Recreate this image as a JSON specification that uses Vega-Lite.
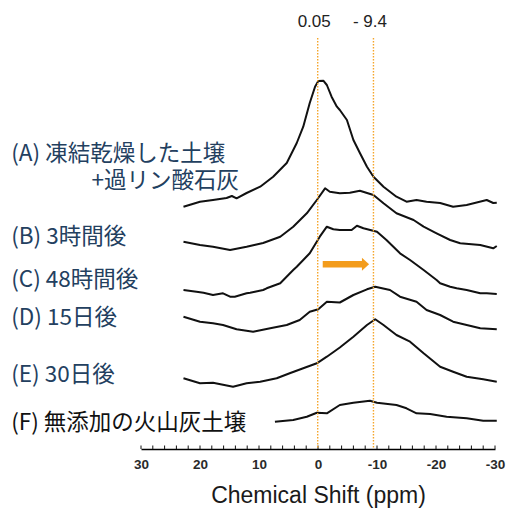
{
  "$schema": "https://vega.github.io/schema/vega-lite/v6.json",
  "autosize": {"type": "none"},
  "padding": {"left": 141, "top": 9, "right": 14, "bottom": 59},
  "width": 354,
  "height": 440,
  "config": {
    "view": {"stroke": null},
    "font": "Liberation Sans",
    "axisX": {
      "titleFont": "Liberation Sans", "titleFontSize": 23, "titleFontWeight": "normal", "titleColor": "#1a1a1a", "titlePadding": 13,
      "labelFont": "Liberation Sans", "labelFontSize": 13.5, "labelFontWeight": "bold", "labelColor": "#2a2a2a",
      "labelPadding": 8.5, "labelOverlap": false, "labelFlush": false,
      "ticks": false,
      "domainColor": "#000000", "domainWidth": 1.6, "grid": false
    }
  },
  "datasets": {
    "spectra": [
      {"series": "A", "ppm": 22.8, "signal": 242.3}, {"series": "A", "ppm": 20.0, "signal": 247.3}, {"series": "A", "ppm": 17.8, "signal": 249}, {"series": "A", "ppm": 15.5, "signal": 251}, {"series": "A", "ppm": 14.6, "signal": 253}, {"series": "A", "ppm": 13.8, "signal": 250.7}, {"series": "A", "ppm": 12.1, "signal": 256}, {"series": "A", "ppm": 9.8, "signal": 262.3}, {"series": "A", "ppm": 7.6, "signal": 272.3}, {"series": "A", "ppm": 5.3, "signal": 286}, {"series": "A", "ppm": 3.6, "signal": 306}, {"series": "A", "ppm": 2.5, "signal": 322.3}, {"series": "A", "ppm": 1.4, "signal": 346}, {"series": "A", "ppm": 0.5, "signal": 362.3}, {"series": "A", "ppm": -0.05, "signal": 368}, {"series": "A", "ppm": -0.9, "signal": 368.3}, {"series": "A", "ppm": -1.5, "signal": 364}, {"series": "A", "ppm": -2.3, "signal": 352.3}, {"series": "A", "ppm": -3.2, "signal": 342.3}, {"series": "A", "ppm": -3.7, "signal": 339}, {"series": "A", "ppm": -4.9, "signal": 329}, {"series": "A", "ppm": -6.0, "signal": 309}, {"series": "A", "ppm": -7.1, "signal": 296}, {"series": "A", "ppm": -8.3, "signal": 282.3}, {"series": "A", "ppm": -9.4, "signal": 272.3}, {"series": "A", "ppm": -11.1, "signal": 262.3}, {"series": "A", "ppm": -13.3, "signal": 252.3}, {"series": "A", "ppm": -15.0, "signal": 247.3}, {"series": "A", "ppm": -16.7, "signal": 249}, {"series": "A", "ppm": -18.4, "signal": 247.3}, {"series": "A", "ppm": -20.7, "signal": 246}, {"series": "A", "ppm": -22.9, "signal": 242.3}, {"series": "A", "ppm": -25.2, "signal": 244}, {"series": "A", "ppm": -28.6, "signal": 249}, {"series": "A", "ppm": -29.7, "signal": 246}, {"series": "A", "ppm": -30.3, "signal": 246.3},
      {"series": "B", "ppm": 22.8, "signal": 207.3}, {"series": "B", "ppm": 20.0, "signal": 204}, {"series": "B", "ppm": 17.8, "signal": 202.3}, {"series": "B", "ppm": 14.9, "signal": 199}, {"series": "B", "ppm": 12.1, "signal": 202.3}, {"series": "B", "ppm": 9.3, "signal": 206}, {"series": "B", "ppm": 6.4, "signal": 212.3}, {"series": "B", "ppm": 4.2, "signal": 222.3}, {"series": "B", "ppm": 1.9, "signal": 235.7}, {"series": "B", "ppm": 0.2, "signal": 249}, {"series": "B", "ppm": -1.2, "signal": 260.7}, {"series": "B", "ppm": -2.0, "signal": 257.3}, {"series": "B", "ppm": -3.7, "signal": 255.7}, {"series": "B", "ppm": -5.4, "signal": 256.3}, {"series": "B", "ppm": -7.1, "signal": 258.3}, {"series": "B", "ppm": -9.4, "signal": 254}, {"series": "B", "ppm": -11.1, "signal": 245.7}, {"series": "B", "ppm": -13.3, "signal": 235.7}, {"series": "B", "ppm": -16.2, "signal": 229}, {"series": "B", "ppm": -17.9, "signal": 222.3}, {"series": "B", "ppm": -20.1, "signal": 215.7}, {"series": "B", "ppm": -22.4, "signal": 209}, {"series": "B", "ppm": -24.1, "signal": 205.7}, {"series": "B", "ppm": -27.5, "signal": 204}, {"series": "B", "ppm": -29.7, "signal": 200.7}, {"series": "B", "ppm": -30.3, "signal": 203},
      {"series": "C", "ppm": 22.8, "signal": 159}, {"series": "C", "ppm": 20.6, "signal": 157.3}, {"series": "C", "ppm": 19.4, "signal": 156.3}, {"series": "C", "ppm": 17.8, "signal": 154}, {"series": "C", "ppm": 16.1, "signal": 155.7}, {"series": "C", "ppm": 14.9, "signal": 152.3}, {"series": "C", "ppm": 14.1, "signal": 152.3}, {"series": "C", "ppm": 12.1, "signal": 155.7}, {"series": "C", "ppm": 11.5, "signal": 156.3}, {"series": "C", "ppm": 9.3, "signal": 159}, {"series": "C", "ppm": 8.7, "signal": 160.7}, {"series": "C", "ppm": 6.4, "signal": 165.7}, {"series": "C", "ppm": 4.2, "signal": 179}, {"series": "C", "ppm": 3.6, "signal": 182.3}, {"series": "C", "ppm": 1.4, "signal": 195.7}, {"series": "C", "ppm": -0.3, "signal": 212.3}, {"series": "C", "ppm": -1.5, "signal": 222.3}, {"series": "C", "ppm": -2.6, "signal": 219.7}, {"series": "C", "ppm": -3.7, "signal": 219}, {"series": "C", "ppm": -5.7, "signal": 219}, {"series": "C", "ppm": -6.6, "signal": 223.3}, {"series": "C", "ppm": -7.7, "signal": 220.7}, {"series": "C", "ppm": -10.0, "signal": 217.3}, {"series": "C", "ppm": -11.6, "signal": 209}, {"series": "C", "ppm": -13.9, "signal": 195.7}, {"series": "C", "ppm": -15.6, "signal": 189}, {"series": "C", "ppm": -17.9, "signal": 179}, {"series": "C", "ppm": -20.1, "signal": 169}, {"series": "C", "ppm": -20.7, "signal": 165.7}, {"series": "C", "ppm": -22.4, "signal": 162.3}, {"series": "C", "ppm": -23.5, "signal": 160.7}, {"series": "C", "ppm": -25.2, "signal": 159}, {"series": "C", "ppm": -27.5, "signal": 155.7}, {"series": "C", "ppm": -28.6, "signal": 155.7}, {"series": "C", "ppm": -30.3, "signal": 155},
      {"series": "D", "ppm": 22.8, "signal": 132.3}, {"series": "D", "ppm": 20.0, "signal": 127.3}, {"series": "D", "ppm": 17.8, "signal": 125.7}, {"series": "D", "ppm": 16.1, "signal": 124}, {"series": "D", "ppm": 13.8, "signal": 119.7}, {"series": "D", "ppm": 11.0, "signal": 117.3}, {"series": "D", "ppm": 8.1, "signal": 120.7}, {"series": "D", "ppm": 5.3, "signal": 124}, {"series": "D", "ppm": 3.1, "signal": 129}, {"series": "D", "ppm": 1.4, "signal": 137.3}, {"series": "D", "ppm": -0.05, "signal": 139.7}, {"series": "D", "ppm": -1.5, "signal": 147.3}, {"series": "D", "ppm": -3.7, "signal": 146.5}, {"series": "D", "ppm": -6.0, "signal": 154}, {"series": "D", "ppm": -8.3, "signal": 159.7}, {"series": "D", "ppm": -9.7, "signal": 162.3}, {"series": "D", "ppm": -12.2, "signal": 159}, {"series": "D", "ppm": -13.9, "signal": 152.3}, {"series": "D", "ppm": -16.7, "signal": 147.3}, {"series": "D", "ppm": -18.4, "signal": 139}, {"series": "D", "ppm": -20.7, "signal": 134}, {"series": "D", "ppm": -22.9, "signal": 127.3}, {"series": "D", "ppm": -25.2, "signal": 124}, {"series": "D", "ppm": -27.5, "signal": 120.7}, {"series": "D", "ppm": -30.3, "signal": 119.7},
      {"series": "E", "ppm": 22.8, "signal": 70.7}, {"series": "E", "ppm": 20.0, "signal": 65.7}, {"series": "E", "ppm": 17.8, "signal": 66.3}, {"series": "E", "ppm": 14.4, "signal": 62.3}, {"series": "E", "ppm": 12.1, "signal": 65.7}, {"series": "E", "ppm": 9.8, "signal": 67.3}, {"series": "E", "ppm": 7.0, "signal": 70.7}, {"series": "E", "ppm": 4.8, "signal": 75.7}, {"series": "E", "ppm": 2.5, "signal": 80.7}, {"series": "E", "ppm": 0.2, "signal": 85.7}, {"series": "E", "ppm": -1.5, "signal": 92.3}, {"series": "E", "ppm": -3.7, "signal": 101.5}, {"series": "E", "ppm": -6.0, "signal": 112.3}, {"series": "E", "ppm": -8.3, "signal": 124}, {"series": "E", "ppm": -9.7, "signal": 129.7}, {"series": "E", "ppm": -11.1, "signal": 124}, {"series": "E", "ppm": -13.3, "signal": 114}, {"series": "E", "ppm": -15.6, "signal": 107.3}, {"series": "E", "ppm": -17.9, "signal": 95.7}, {"series": "E", "ppm": -20.7, "signal": 82.3}, {"series": "E", "ppm": -22.9, "signal": 77.3}, {"series": "E", "ppm": -25.2, "signal": 72.3}, {"series": "E", "ppm": -28.0, "signal": 69.7}, {"series": "E", "ppm": -30.3, "signal": 67.3},
      {"series": "F", "ppm": 7.3, "signal": 27.3}, {"series": "F", "ppm": 4.2, "signal": 29}, {"series": "F", "ppm": 1.9, "signal": 32.3}, {"series": "F", "ppm": 0.2, "signal": 36.3}, {"series": "F", "ppm": -1.5, "signal": 35.7}, {"series": "F", "ppm": -3.7, "signal": 44}, {"series": "F", "ppm": -6.0, "signal": 46.3}, {"series": "F", "ppm": -8.8, "signal": 48.3}, {"series": "F", "ppm": -10.0, "signal": 46.3}, {"series": "F", "ppm": -13.3, "signal": 44}, {"series": "F", "ppm": -15.0, "signal": 40.7}, {"series": "F", "ppm": -16.7, "signal": 35.7}, {"series": "F", "ppm": -19.0, "signal": 35}, {"series": "F", "ppm": -21.8, "signal": 32.3}, {"series": "F", "ppm": -25.2, "signal": 30.7}, {"series": "F", "ppm": -28.0, "signal": 28.3}, {"series": "F", "ppm": -30.3, "signal": 28.3}
    ],
    "ticks": [
      {"ppm": 30}, {"ppm": 28}, {"ppm": 26}, {"ppm": 24}, {"ppm": 22}, {"ppm": 20}, {"ppm": 18}, {"ppm": 16}, {"ppm": 14}, {"ppm": 12}, {"ppm": 10}, {"ppm": 8}, {"ppm": 6}, {"ppm": 4}, {"ppm": 2}, {"ppm": 0},
      {"ppm": -2}, {"ppm": -4}, {"ppm": -6}, {"ppm": -8}, {"ppm": -10}, {"ppm": -12}, {"ppm": -14}, {"ppm": -16}, {"ppm": -18}, {"ppm": -20}, {"ppm": -22}, {"ppm": -24}, {"ppm": -26}, {"ppm": -28}, {"ppm": -30}
    ],
    "refs": [
      {"ppm": 0.05, "label": "0.05", "top": 411, "bottom": 0, "labelLevel": 429},
      {"ppm": -9.4, "label": "- 9.4", "top": 411, "bottom": 0, "labelLevel": 429}
    ],
    "labels": [
      {"series": "A", "text": "(A) 凍結乾燥した土壌", "ppm": 52, "level": 295},
      {"series": "A", "text": "+過リン酸石灰", "ppm": 38.4, "level": 268},
      {"series": "B", "text": "(B) 3時間後", "ppm": 52, "level": 212},
      {"series": "C", "text": "(C) 48時間後", "ppm": 52, "level": 169},
      {"series": "D", "text": "(D) 15日後", "ppm": 52, "level": 131},
      {"series": "E", "text": "(E) 30日後", "ppm": 52, "level": 74},
      {"series": "F", "text": "(F) 無添加の火山灰土壌", "ppm": 52, "level": 26}
    ],
    "arrow": [
      {"from": -0.8, "to": -7.6, "head": -8.05, "level": 184.7}
    ]
  },
  "layer": [
    {
      "data": {"name": "spectra"},
      "mark": {"type": "line", "color": "#111111", "strokeWidth": 2, "strokeJoin": "round"},
      "encoding": {
        "x": {
          "field": "ppm", "type": "quantitative",
          "title": "Chemical Shift (ppm)",
          "scale": {"domain": [-30, 30], "reverse": true, "nice": false, "zero": false},
          "axis": {
            "values": [30, 20, 10, 0, -10, -20, -30],
            "labelExpr": "datum.value < 0 ? '-' + abs(datum.value) : '' + datum.value"
          }
        },
        "y": {"field": "signal", "type": "quantitative", "scale": {"domain": [0, 440], "nice": false, "zero": false}, "axis": null},
        "detail": {"field": "series"}
      }
    },
    {
      "data": {"name": "ticks"},
      "mark": {"type": "rule", "color": "#111111", "strokeWidth": 1},
      "encoding": {
        "x": {"field": "ppm", "type": "quantitative", "title": "Chemical Shift (ppm)"},
        "y": {"datum": 0, "type": "quantitative", "axis": null},
        "y2": {"datum": 3.5}
      }
    },
    {
      "data": {"name": "refs"},
      "mark": {"type": "rule", "color": "#f5a52a", "strokeWidth": 1.4, "strokeDash": [1.5, 1.5]},
      "encoding": {
        "x": {"field": "ppm", "type": "quantitative", "title": "Chemical Shift (ppm)"},
        "y": {"field": "top", "type": "quantitative", "axis": null},
        "y2": {"field": "bottom"}
      }
    },
    {
      "data": {"name": "refs"},
      "mark": {"type": "text", "fontSize": 17, "color": "#222222", "baseline": "middle", "align": "center", "dx": -3.5, "dy": 1.5},
      "encoding": {
        "x": {"field": "ppm", "type": "quantitative", "title": "Chemical Shift (ppm)"},
        "y": {"field": "labelLevel", "type": "quantitative", "axis": null},
        "text": {"field": "label"}
      }
    },
    {
      "data": {"name": "arrow"},
      "mark": {"type": "rule", "color": "#f39c1c", "strokeWidth": 6.5, "strokeCap": "butt"},
      "encoding": {
        "x": {"field": "from", "type": "quantitative", "title": "Chemical Shift (ppm)"},
        "x2": {"field": "to"},
        "y": {"field": "level", "type": "quantitative", "axis": null}
      }
    },
    {
      "data": {"name": "arrow"},
      "mark": {"type": "point", "shape": "M-0.55,-1L0.55,0L-0.55,1Z", "size": 169, "filled": true, "color": "#f39c1c", "opacity": 1},
      "encoding": {
        "x": {"field": "head", "type": "quantitative", "title": "Chemical Shift (ppm)"},
        "y": {"field": "level", "type": "quantitative", "axis": null}
      }
    },
    {
      "data": {"name": "labels"},
      "transform": [{"filter": "datum.series !== 'F'"}],
      "mark": {"type": "text", "font": "Noto Sans CJK JP", "fontSize": 22.5, "color": "#23405f", "align": "left", "baseline": "middle"},
      "encoding": {
        "x": {"field": "ppm", "type": "quantitative", "title": "Chemical Shift (ppm)"},
        "y": {"field": "level", "type": "quantitative", "axis": null},
        "text": {"field": "text"}
      }
    },
    {
      "data": {"name": "labels"},
      "transform": [{"filter": "datum.series === 'F'"}],
      "mark": {"type": "text", "font": "Noto Sans CJK JP", "fontSize": 22.5, "color": "#111111", "align": "left", "baseline": "middle"},
      "encoding": {
        "x": {"field": "ppm", "type": "quantitative", "title": "Chemical Shift (ppm)"},
        "y": {"field": "level", "type": "quantitative", "axis": null},
        "text": {"field": "text"}
      }
    }
  ]
}
